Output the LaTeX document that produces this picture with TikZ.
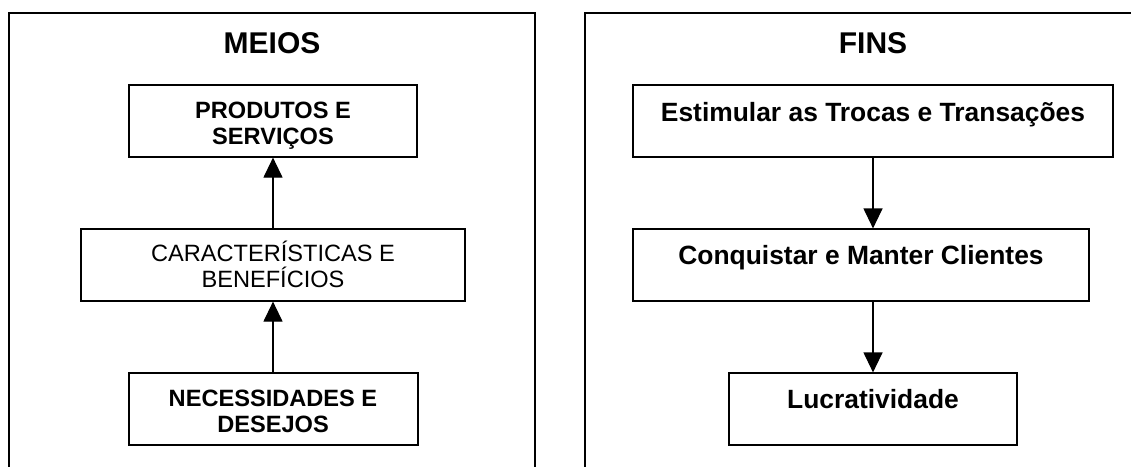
\documentclass[tikz,border=0pt]{standalone}
\usepackage{fontspec}
\setmainfont{Liberation Sans}
\usetikzlibrary{arrows.meta}
\begin{document}
\begin{tikzpicture}[x=1pt,y=-1pt,
  panel/.style={line width=1.3pt},
  box/.style={draw, line width=1.2pt, inner sep=0pt},
  ttl/.style={font=\fontsize{30}{32}\selectfont\bfseries, inner sep=0pt, anchor=base},
  lbl/.style={font=\fontsize{23.6}{25.5}\selectfont\bfseries, align=center, inner sep=0pt, anchor=base},
  lblreg/.style={font=\fontsize{23.6}{26}\selectfont, align=center, inner sep=0pt, anchor=base},
  lblr/.style={font=\fontsize{26.4}{29}\selectfont\bfseries, inner sep=0pt, anchor=base},
  arr/.style={line width=1.2pt, -{Triangle[width=19pt,length=20pt]}}]
\useasboundingbox (0,0) rectangle (1131,466);
\clip (0,0) rectangle (1131,466);

% panel frames (open at the bottom)
\draw[panel] (9,470) -- (9,13) -- (535,13) -- (535,470);
\draw[panel] (585,470) -- (585,13) -- (1160,13) -- (1160,470);

% left column: means
\node[ttl] (meios) at (272,53) {MEIOS};
\node[box, minimum width=288, minimum height=72] (prod) at (273,121) {};
\node[box, minimum width=384, minimum height=72] (carac) at (273,265) {};
\node[box, minimum width=289, minimum height=72] (nec) at (273.5,409) {};
% multi-line labels are anchored at the baseline of their last line
\node[lbl] (prodt) at (273,144) {PRODUTOS E\\SERVIÇOS};
\node[lblreg] (caract) at (273,287.7) {CARACTERÍSTICAS E\\BENEFÍCIOS};
\node[lbl] (nect) at (273,432) {NECESSIDADES E\\DESEJOS};
\draw[arr] (carac.north) -- (prod.south);
\draw[arr] (nec.north -| carac.north) -- (carac.south);

% right column: ends
\node[ttl] (fins) at (873,53) {FINS};
\node[box, minimum width=480, minimum height=72] (est) at (873,121) {};
\node[box, minimum width=456, minimum height=72] (conq) at (861,265) {};
\node[box, minimum width=288, minimum height=72] (luc) at (873,409) {};
\node[lblr] (estt) at (873,121) {Estimular as Trocas e Transações};
\node[lblr] (conqt) at (861,264) {Conquistar e Manter Clientes};
\node[lblr] (luct) at (873,408) {Lucratividade};
\draw[arr] (est.south) -- (est.south |- conq.north);
\draw[arr] (luc.north |- conq.south) -- (luc.north);
\end{tikzpicture}
\end{document}
